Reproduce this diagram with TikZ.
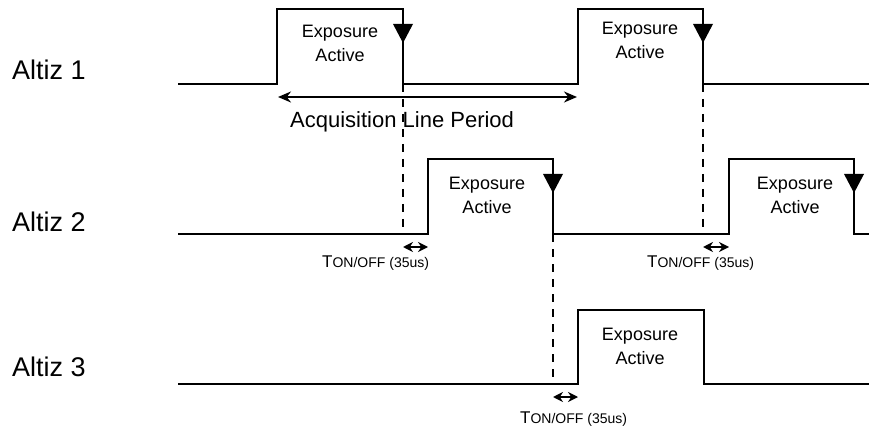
\documentclass[tikz,border=0pt]{standalone}
\usepackage{fontspec}
\setmainfont{Liberation Sans}
\usetikzlibrary{arrows.meta}

\tikzset{
    signal/.style={line width=2pt, line join=miter},
    guide/.style={line width=2pt, dash pattern=on 8pt off 7pt},
    period/.style={line width=2pt, {Stealth[length=13pt,width=11pt]}-{Stealth[length=13pt,width=11pt]}},
    tonarrow/.style={line width=2pt, {Stealth[length=10pt,width=10pt]}-{Stealth[length=10pt,width=10pt]}},
    exptext/.style={align=center, inner sep=0pt, font=\fontsize{18}{24}\selectfont},
    chname/.style={anchor=west, inner sep=0pt, font=\fontsize{27}{30}\selectfont},
    tontext/.style={anchor=base west, inner sep=0pt}
}

\begin{document}
\begin{tikzpicture}[x=1pt, y=-1pt]
    \useasboundingbox (0,0) rectangle (869,430);
    % channel names
    \node[chname] (alt1) at (12,70) {Altiz 1};
    \node[chname] (alt2) at (12,222) {Altiz 2};
    \node[chname] (alt3) at (12,367) {Altiz 3};
    % Altiz 1: two exposures
    \draw[signal] (178,84) -- (277,84) -- (277,9) -- (403,9) -- (403,84) coordinate (a1f1)
        -- (578,84) -- (578,9) -- (703,9) -- (703,84) coordinate (a1f2) -- (869,84);
    % Altiz 2: starts one T_on/off after Altiz 1 ends
    \draw[signal] (178,234) -- (403,234) coordinate (a2d1) -- (428,234) coordinate (a2r1)
        -- (428,159) -- (553,159) -- (553,234) coordinate (a2f1)
        -- (703,234) coordinate (a2d2) -- (729,234) coordinate (a2r2)
        -- (729,159) -- (854,159) -- (854,234) -- (869,234);
    % Altiz 3
    \draw[signal] (178,384) -- (553,384) coordinate (a3d1) -- (578,384) coordinate (a3r1)
        -- (578,310) -- (704,310) -- (704,384) -- (869,384);
    % end-of-exposure markers
    \foreach \x/\y in {403/9, 703/9, 553/159, 854/159} {
        \fill (\x-10,\y+15) -- (\x+10,\y+15) -- (\x,\y+34) -- cycle;
    }
    % exposure labels
    \node[exptext] (exp11) at (340,43) {Exposure\\Active};
    \node[exptext] (exp12) at (640,40) {Exposure\\Active};
    \node[exptext] (exp21) at (487,195) {Exposure\\Active};
    \node[exptext] (exp22) at (795,195) {Exposure\\Active};
    \node[exptext] (exp31) at (640,346) {Exposure\\Active};
    % line period
    \coordinate (ps) at (278,97);
    \coordinate (pe) at (577,97);
    \draw[period] (ps) -- (pe);
    \node[anchor=base west, inner sep=0pt, font=\fontsize{22}{26}\selectfont] (plabel) at (290,128) {Acquisition Line Period};
    % hand-over from one channel to the next
    \draw[guide] (a1f1) -- (a2d1);
    \draw[guide] (a1f2) -- (a2d2);
    \draw[guide] (a2f1) -- (a3d1);
    \draw[tonarrow] ([yshift=-13pt]a2d1) -- ([yshift=-13pt]a2r1);
    \draw[tonarrow] ([yshift=-13pt]a2d2) -- ([yshift=-13pt]a2r2);
    \draw[tonarrow] ([yshift=-13pt]a3d1) -- ([yshift=-13pt]a3r1);
    \node[tontext] (ton1) at (322,267) {\fontsize{17}{20}\selectfont T\fontsize{14}{16}\selectfont ON/OFF (35us)};
    \node[tontext] (ton2) at (647,267) {\fontsize{17}{20}\selectfont T\fontsize{14}{16}\selectfont ON/OFF (35us)};
    \node[tontext] (ton3) at (520,423) {\fontsize{17}{20}\selectfont T\fontsize{14}{16}\selectfont ON/OFF (35us)};
\end{tikzpicture}
\end{document}
